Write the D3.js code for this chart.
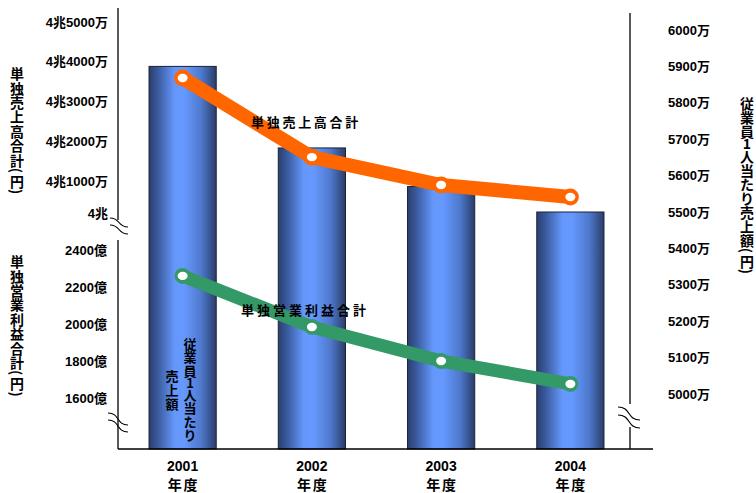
<!DOCTYPE html>
<html>
<head>
<meta charset="utf-8">
<script src="https://cdn.jsdelivr.net/npm/d3@7"></script>
<style>
  body { margin: 0; background: #fff; }
  svg { display: block; }
  text { font-family: "Liberation Sans", "Noto Sans CJK JP", sans-serif; font-weight: bold; fill: #000; }
  .cjk { font-family: "Noto Sans CJK JP", sans-serif; }
</style>
</head>
<body>
<svg id="chart" width="756" height="493"></svg>
<script>
// Fiscal years
const years = ["2001", "2002", "2003", "2004"];
// Sales per employee (万円) – bars, right axis
const perEmployee = [5900, 5676, 5570, 5500];
// Non-consolidated sales total, in 万円 above 4兆 – orange line, upper left axis
const salesOver4cho = [3590, 1600, 875, 500];
// Non-consolidated operating profit total (億円) – green line, lower left axis
const opProfit = [2260, 1984, 1800, 1676];

const salesTicks = [0, 1000, 2000, 3000, 4000, 5000];
const salesTickLabels = ["4兆", "4兆1000万", "4兆2000万", "4兆3000万", "4兆4000万", "4兆5000万"];
const profitTicks = [1600, 1800, 2000, 2200, 2400];
const profitTickLabels = ["1600億", "1800億", "2000億", "2200億", "2400億"];
const perEmpTicks = [5000, 5100, 5200, 5300, 5400, 5500, 5600, 5700, 5800, 5900, 6000];
const perEmpTickLabels = ["5000万", "5100万", "5200万", "5300万", "5400万", "5500万", "5600万", "5700万", "5800万", "5900万", "6000万"];

const svg = d3.select("#chart");

// Plot geometry
const left = 118, right = 630, baseY = 449;

const x = d3.scaleBand().domain(years).range([118, 635]).paddingInner(0.48).paddingOuter(0.24);
const cx = d => x(d) + x.bandwidth() / 2;
const yRight = d3.scaleLinear().domain([5000, 6000]).range([394, 30]);
// broken axis: the first 1000万 step above 4兆 is compressed
const ySales = d3.scaleLinear().domain([0, 1000, 5000]).range([213, 181, 22]);
const yProfit = d3.scaleLinear().domain([1600, 2400]).range([398, 250]);

// Bar gradient
const defs = svg.append("defs");
const grad = defs.append("linearGradient").attr("id", "barGrad").attr("x1", "0").attr("x2", "1").attr("y1", "0").attr("y2", "0");
[[0, "#2a3f6e"], [0.14, "#3b5ca0"], [0.38, "#6597fb"], [0.52, "#6699ff"], [0.78, "#4e78cb"], [1, "#2a3d6a"]]
  .forEach(([o, c]) => grad.append("stop").attr("offset", o).attr("stop-color", c));

// Bars
svg.append("g").selectAll("rect").data(years).join("rect")
  .attr("x", d => x(d))
  .attr("y", (d, i) => yRight(perEmployee[i]))
  .attr("width", x.bandwidth())
  .attr("height", (d, i) => baseY - yRight(perEmployee[i]))
  .attr("fill", "url(#barGrad)")
  .attr("stroke", "#1c2236").attr("stroke-width", 1);

// Axis lines (with gaps for the breaks)
const axisG = svg.append("g").attr("stroke", "#000").attr("stroke-width", 1.3).attr("fill", "none");
[[left, 8, left, 220], [left, 240, left, baseY], [right, 13, right, 404], [right, 427, right, baseY], [left, baseY, 653, baseY]]
  .forEach(([x1, y1, x2, y2]) => axisG.append("line").attr("x1", x1).attr("y1", y1).attr("x2", x2).attr("y2", y2));

// Break marks
function breakMark(x0, y0, w, h, gap) {
  [0, gap].forEach(off => {
    const y = y0 + off;
    axisG.append("path")
      .attr("d", `M${x0},${y} C${x0 + w * 0.6},${y} ${x0 + w * 0.4},${y + h} ${x0 + w},${y + h}`)
      .attr("stroke-width", 1.2);
  });
}
breakMark(110, 218, 18, 9, 7);
breakMark(108, 413, 20, 12, 7);
breakMark(618, 407, 22, 13, 8);

// Tick labels through axes
function styleAxis(g) {
  g.select(".domain").remove();
  g.selectAll("line").remove();
  g.selectAll("text").attr("font-size", 13).attr("font-family", null).attr("fill", "#000");
}
svg.append("g").attr("transform", `translate(${left},0)`)
  .call(d3.axisLeft(ySales).tickValues(salesTicks).tickFormat((d, i) => salesTickLabels[i]).tickSize(0).tickPadding(10))
  .call(styleAxis);
svg.append("g").attr("transform", `translate(${left},0)`)
  .call(d3.axisLeft(yProfit).tickValues(profitTicks).tickFormat((d, i) => profitTickLabels[i]).tickSize(0).tickPadding(11))
  .call(styleAxis);
svg.append("g").attr("transform", `translate(${right},0)`)
  .call(d3.axisRight(yRight).tickValues(perEmpTicks).tickFormat((d, i) => perEmpTickLabels[i]).tickSize(0).tickPadding(38))
  .call(styleAxis);

// Category labels
const xl = svg.append("g").selectAll("g").data(years).join("g");
xl.append("text").attr("x", d => cx(d)).attr("y", 466).attr("text-anchor", "middle")
  .attr("dominant-baseline", "central").attr("font-size", 14).text(d => d);
xl.append("text").attr("class", "cjk").attr("x", d => cx(d) + 1).attr("y", 484).attr("text-anchor", "middle")
  .attr("dominant-baseline", "central").attr("font-size", 14).attr("letter-spacing", 2).text("年度");

// Lines
function series(vals, yScale, color, width) {
  const pts = years.map((d, i) => [cx(d), yScale(vals[i])]);
  const g = svg.append("g");
  g.append("path").attr("d", d3.line()(pts)).attr("fill", "none")
    .attr("stroke", color).attr("stroke-width", width)
    .attr("stroke-linejoin", "round").attr("stroke-linecap", "round");
  g.selectAll("circle").data(pts).join("circle")
    .attr("cx", p => p[0]).attr("cy", p => p[1]).attr("r", width / 2 + 1.5).attr("fill", color);
  g.selectAll("ellipse").data(pts).join("ellipse")
    .attr("cx", p => p[0]).attr("cy", p => p[1]).attr("rx", 5).attr("ry", 4.2).attr("fill", "#fff");
}
series(salesOver4cho, ySales, "#ff6600", 14);
series(opProfit, yProfit, "#339966", 13);

// Series labels
svg.append("text").attr("class", "cjk").attr("x", 306).attr("y", 121).attr("text-anchor", "middle")
  .attr("dominant-baseline", "central").attr("font-size", 13).attr("letter-spacing", 2.7).text("単独売上高合計");
svg.append("text").attr("class", "cjk").attr("x", 305).attr("y", 309).attr("text-anchor", "middle")
  .attr("dominant-baseline", "central").attr("font-size", 13).attr("letter-spacing", 3).text("単独営業利益合計");

// Vertical text, one glyph per line; parentheses turned sideways
function vtext(str, xc, top, size, adv, center) {
  const chars = Array.from(str);
  const advOf = ch => "()".includes(ch) ? size * 0.5 : /[0-9]/.test(ch) ? size * 0.78 : adv;
  const total = d3.sum(chars, advOf);
  let y = center ? top - total / 2 : top;
  const g = svg.append("g");
  chars.forEach(ch => {
    const a = advOf(ch);
    const ym = y + a / 2;
    const t = g.append("text").attr("class", "cjk").attr("x", xc).attr("y", ym)
      .attr("text-anchor", "middle").attr("dominant-baseline", "central")
      .attr("font-size", size).text(ch);
    if ("()".includes(ch)) t.attr("transform", `rotate(90 ${xc} ${ym})`);
    y += a;
  });
}
vtext("単独売上高合計(円)", 17, 66, 14, 14.4);
vtext("単独営業利益合計(円)", 17, 254, 14, 14.4);
vtext("従業員1人当たり売上額(円)", 747, 96, 14, 14);
vtext("従業員1人当たり", 190, 389, 13, 13.6, true);
vtext("売上額", 172, 389, 13, 14, true);
</script>
</body>
</html>
